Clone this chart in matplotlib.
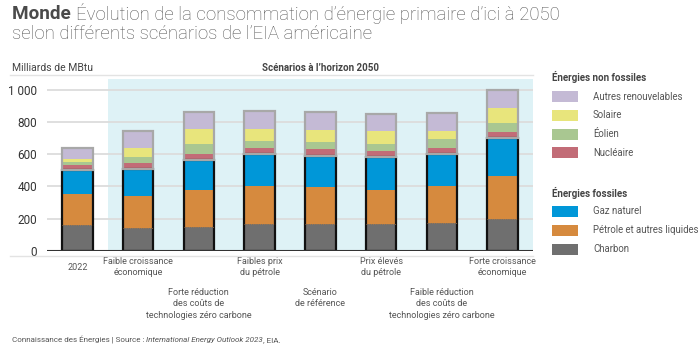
import matplotlib
matplotlib.use("Agg")
import matplotlib.pyplot as plt
from matplotlib.patches import Rectangle
from matplotlib.lines import Line2D

plt.rcParams['font.family'] = ['Roboto', 'DejaVu Sans']

W, H = 700, 345

scenarios = ["2022",
             "Faible croissance\néconomique",
             "Forte réduction\ndes coûts de\ntechnologies zéro carbone",
             "Faibles prix\ndu pétrole",
             "Scénario\nde référence",
             "Prix élevés\ndu pétrole",
             "Faible réduction\ndes coûts de\ntechnologies zéro carbone",
             "Forte croissance\néconomique"]

# milliards de MBtu
charbon = [163, 145, 149, 170, 170, 170, 174, 196]
petrole = [188, 198, 227, 235, 227, 210, 231, 267]
gaz = [153, 165, 186, 194, 192, 201, 198, 235]
nucleaire = [29, 37, 41, 39, 43, 39, 35, 42]
eolien = [18, 37, 62, 44, 43, 45, 54, 55]
solaire = [17, 59, 89, 76, 73, 77, 54, 89]
autres = [72, 101, 105, 108, 111, 107, 109, 116]

fossil_names = ["Gaz naturel", "Pétrole et autres liquides", "Charbon"]
nonfossil_names = ["Autres renouvelables", "Solaire", "Éolien", "Nucléaire"]

c_autres = "#c4bad5"
c_solaire = "#e8e57c"
c_eolien = "#a9c791"
c_nuc = "#c26c77"
c_gaz = "#0097d8"
c_pet = "#d68a3e"
c_char = "#6f6f6f"


def fx(px):
    return px / W


def fy(py):
    return 1 - py / H


fig = plt.figure(figsize=(7, 3.45), dpi=100)
renderer = fig.canvas.get_renderer()


def chain(x0, y0, parts):
    # put several text pieces one after the other on the same line
    xx = x0
    for txt, kw in parts:
        t = fig.text(fx(xx), fy(y0), txt, va="center", **kw)
        xx += t.get_window_extent(renderer).width


ax = fig.add_axes([fx(47), fy(251), fx(533) - fx(47), fy(79) - fy(251)])
ax.set_xlim(-0.5, 7.5)
ax.set_ylim(0, 1066)
ax.axvspan(0.5, 7.5, color="#def2f6", zorder=0, lw=0)
for v in range(200, 1001, 200):
    ax.axhline(v, color="#dcdcdc", lw=1.3, zorder=1)

x = list(range(len(scenarios)))
bw = 0.5
series = [(charbon, c_char), (petrole, c_pet), (gaz, c_gaz),
          (nucleaire, c_nuc), (eolien, c_eolien), (solaire, c_solaire), (autres, c_autres)]
bottoms = [0] * len(x)
for vals, col in series:
    ax.bar(x, vals, bw, bottom=bottoms, color=col, lw=0, zorder=2)
    bottoms = [b + v for b, v in zip(bottoms, vals)]

for i in x:
    fos = charbon[i] + petrole[i] + gaz[i]
    tot = bottoms[i]
    ax.add_patch(Rectangle((i - bw / 2, 0), bw, fos, fill=False, ec="#111111", lw=1.6, zorder=3))
    ax.add_patch(Rectangle((i - bw / 2, fos), bw, tot - fos, fill=False, ec="#a8a8a8", lw=1.6, zorder=3))
    ax.plot([i - bw / 2, i + bw / 2], [charbon[i]] * 2, color="#b07840", lw=0.6, ls=":", zorder=3)

ax.axhline(0, color="#333333", lw=1.5, zorder=4)
for s in ax.spines.values():
    s.set_visible(False)
ax.set_xticks([])
ax.set_yticks(range(0, 1001, 200))
ax.set_yticklabels(["0", "200", "400", "600", "800", "1 000"], fontsize=8.5, color="#333333")
ax.tick_params(axis="y", length=0, pad=7)

for i, lab in enumerate(scenarios):
    if i == 0:
        yy, va = -0.098, "center"
    elif i in (2, 4, 6):
        yy, va = -0.215, "top"
    else:
        yy, va = -0.035, "top"
    ax.text(i, yy, lab, transform=ax.get_xaxis_transform(), ha="center", va=va,
            fontsize=6.5, color="#555555", linespacing=1.35)

# lines outside axes
fig.add_artist(Line2D([fx(10), fx(533)], [fy(75), fy(75)], color="#e3e3e3", lw=1))
fig.add_artist(Line2D([fx(10), fx(533)], [fy(255.5), fy(255.5)], color="#e3e3e3", lw=1))

# titles
chain(12, 14, [("Monde ", dict(fontsize=13.6, fontweight="bold", color="#4a4a4a")),
               ("Évolution de la consommation d’énergie primaire d’ici à 2050",
                dict(fontsize=13.4, fontweight="light", color="#555555"))])
fig.text(fx(12), fy(34), "selon différents scénarios de l’EIA américaine",
         fontsize=13.4, fontweight="light", color="#555555", va="center")
fig.text(fx(12), fy(68), "Milliards de MBtu", fontsize=7.5, color="#444444", va="center")
fig.text(fx(320), fy(68), "Scénarios à l’horizon 2050", fontsize=7, fontweight="bold",
         color="#444444", va="center", ha="center")
chain(12, 340, [("Connaissance des Énergies | Source : ", dict(fontsize=5.8, color="#555555")),
                ("International Energy Outlook 2023", dict(fontsize=5.8, style="italic", color="#555555")),
                (", EIA.", dict(fontsize=5.8, color="#555555"))])

# legend
fig.text(fx(552), fy(76.5), "Énergies non fossiles", fontsize=7, fontweight="bold", color="#444444", va="center")
fig.text(fx(552), fy(192.5), "Énergies fossiles", fontsize=7, fontweight="bold", color="#444444", va="center")
leg_nf = [(c_autres, 96.5), (c_solaire, 115), (c_eolien, 134), (c_nuc, 152.5)]
leg_f = [(c_gaz, 211.5), (c_pet, 230), (c_char, 249)]
for (col, yy), name in zip(leg_nf + leg_f, nonfossil_names + fossil_names):
    fig.add_artist(Rectangle((fx(552), fy(yy + 5.5)), fx(26), 11 / H, color=col, lw=0))
    fig.text(fx(593), fy(yy), name, fontsize=6.9, color="#555555", va="center")

fig.savefig("out.png", dpi=100)
